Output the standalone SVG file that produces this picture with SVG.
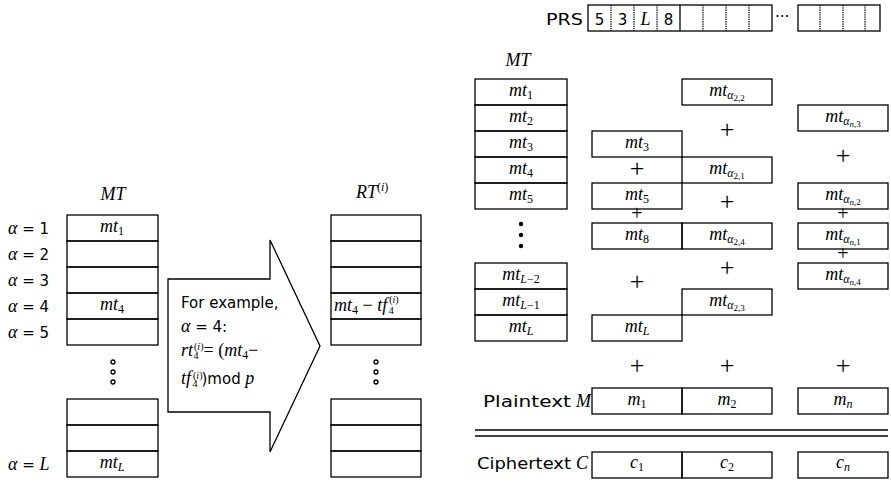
<svg xmlns="http://www.w3.org/2000/svg" width="891" height="482" viewBox="0 0 891 482">
<style>
.box{fill:none;stroke:#000;stroke-width:1.3}
.ln{stroke:#000;stroke-width:1.3;fill:none}
.dot{stroke:#000;stroke-width:1.3;stroke-dasharray:1.3 1;fill:none}
.sans{font-family:"DejaVu Sans",Verdana,sans-serif;font-size:15px;fill:#000}
.m{font-family:"Liberation Serif","Times New Roman",serif;font-style:italic;font-size:18px;fill:#000}
.s{font-size:12px;font-style:normal}
.si{font-size:12px;font-style:italic}
.t{font-size:10px;font-style:normal}
.ti{font-size:10px;font-style:italic}
.ss{font-size:9px;font-style:normal}
.ssi{font-size:9px;font-style:italic}
.plus{font-family:"Liberation Serif",serif;font-size:26px;fill:#000;text-anchor:middle}
.pt{font-size:20px}
.c{text-anchor:middle}
</style>
<rect width="891" height="482" fill="#fff"/>

<!-- LEFT: MT table -->
<g id="left-mt">
<text class="m c" x="113" y="200">MT</text>
<rect class="box" x="67" y="215" width="91" height="26"/>
<rect class="box" x="67" y="241" width="91" height="26"/>
<rect class="box" x="67" y="267" width="91" height="26"/>
<rect class="box" x="67" y="293" width="91" height="26"/>
<rect class="box" x="67" y="319" width="91" height="26"/>
<rect class="box" x="67" y="399" width="91" height="26"/>
<rect class="box" x="67" y="425" width="91" height="26"/>
<rect class="box" x="67" y="451" width="91" height="26"/>
<text class="m c" x="112" y="232">mt<tspan class="s" dy="3">1</tspan></text>
<text class="m c" x="112" y="310">mt<tspan class="s" dy="3">4</tspan></text>
<text class="m c" x="112" y="468">mt<tspan class="si" dy="3">L</tspan></text>
<circle class="ln" cx="113" cy="362" r="2"/>
<circle class="ln" cx="113" cy="372" r="2"/>
<circle class="ln" cx="113" cy="382" r="2"/>
</g>

<g id="alpha-labels">
<text class="sans" x="8" y="234"><tspan class="m">α</tspan> = 1</text>
<text class="sans" x="8" y="260"><tspan class="m">α</tspan> = 2</text>
<text class="sans" x="8" y="286"><tspan class="m">α</tspan> = 3</text>
<text class="sans" x="8" y="312"><tspan class="m">α</tspan> = 4</text>
<text class="sans" x="8" y="338"><tspan class="m">α</tspan> = 5</text>
<text class="sans" x="8" y="470"><tspan class="m">α</tspan> = <tspan class="m">L</tspan></text>
</g>

<!-- Arrow -->
<g id="arrow">
<polygon class="box" points="168,279 270,279 270,240 320,346 270,452 270,412 168,412"/>
<text class="sans" x="181" y="308" font-size="16">For example,</text>
<text class="sans" x="181" y="332" font-size="16"><tspan class="m">α</tspan> = 4:</text>
<text class="m" x="181" y="356" font-size="19">rt<tspan class="t" dx="1" dy="-6">(</tspan><tspan class="ti">i</tspan><tspan class="t">)</tspan><tspan class="t" dx="-10" dy="9">4</tspan><tspan font-style="normal" dx="5" dy="-3">= (</tspan>mt<tspan class="s" dy="3">4</tspan><tspan font-style="normal" dy="-3">−</tspan></text>
<text class="m" x="181" y="384" font-size="19">tf<tspan class="t" dx="2" dy="-5">(</tspan><tspan class="ti">i</tspan><tspan class="t">)</tspan><tspan class="t" dx="-10" dy="8">4</tspan><tspan class="sans" font-style="normal" font-size="16" dx="4" dy="-3">)mod</tspan> p</text>
</g>

<!-- RT table -->
<g id="rt-table">
<text class="m" x="356" y="198">RT<tspan class="s" dy="-7">(</tspan><tspan class="si">i</tspan><tspan class="s">)</tspan></text>
<rect class="box" x="331" y="215" width="90" height="26"/>
<rect class="box" x="331" y="241" width="90" height="26"/>
<rect class="box" x="331" y="267" width="90" height="26"/>
<rect class="box" x="331" y="293" width="90" height="26"/>
<rect class="box" x="331" y="319" width="90" height="26"/>
<rect class="box" x="331" y="399" width="90" height="26"/>
<rect class="box" x="331" y="425" width="90" height="26"/>
<rect class="box" x="331" y="451" width="90" height="26"/>
<text class="m" x="334" y="311" font-size="19">mt<tspan class="s" dy="3">4</tspan><tspan font-style="normal" dy="-3"> − </tspan>tf<tspan class="t" dx="2" dy="-8">(</tspan><tspan class="ti">i</tspan><tspan class="t">)</tspan><tspan class="t" dx="-10" dy="11">4</tspan></text>
<circle class="ln" cx="376" cy="362" r="2"/>
<circle class="ln" cx="376" cy="372" r="2"/>
<circle class="ln" cx="376" cy="382" r="2"/>
</g>

<!-- PRS -->
<g id="prs">
<text class="sans" x="546" y="25" textLength="37" lengthAdjust="spacingAndGlyphs">PRS</text>
<rect class="box" x="588" y="5" width="184" height="26"/>
<line class="dot" x1="611" y1="5" x2="611" y2="31"/>
<line class="dot" x1="634" y1="5" x2="634" y2="31"/>
<line class="dot" x1="657" y1="5" x2="657" y2="31"/>
<line class="ln" x1="680" y1="5" x2="680" y2="31"/>
<line class="dot" x1="703" y1="5" x2="703" y2="31"/>
<line class="dot" x1="726" y1="5" x2="726" y2="31"/>
<line class="dot" x1="749" y1="5" x2="749" y2="31"/>
<text class="sans c" x="599.5" y="25">5</text>
<text class="sans c" x="622.5" y="25">3</text>
<text class="m c" x="645.5" y="25">L</text>
<text class="sans c" x="668.5" y="25">8</text>
<text class="sans" x="775" y="22" font-size="13">···</text>
<rect class="box" x="798" y="5" width="82" height="26"/>
<line class="dot" x1="820" y1="5" x2="820" y2="31"/>
<line class="dot" x1="843" y1="5" x2="843" y2="31"/>
<line class="dot" x1="865" y1="5" x2="865" y2="31"/>
</g>

<!-- Right MT column -->
<g id="right-mt">
<text class="m c" x="518" y="66">MT</text>
<rect class="box" x="475" y="79" width="92" height="26"/>
<rect class="box" x="475" y="105" width="92" height="26"/>
<rect class="box" x="475" y="131" width="92" height="26"/>
<rect class="box" x="475" y="157" width="92" height="26"/>
<rect class="box" x="475" y="183" width="92" height="26"/>
<rect class="box" x="475" y="263" width="92" height="26"/>
<rect class="box" x="475" y="289" width="92" height="26"/>
<rect class="box" x="475" y="315" width="92" height="26"/>
<text class="m c" x="521" y="96">mt<tspan class="s" dy="3">1</tspan></text>
<text class="m c" x="521" y="122">mt<tspan class="s" dy="3">2</tspan></text>
<text class="m c" x="521" y="148">mt<tspan class="s" dy="3">3</tspan></text>
<text class="m c" x="521" y="174">mt<tspan class="s" dy="3">4</tspan></text>
<text class="m c" x="521" y="200">mt<tspan class="s" dy="3">5</tspan></text>
<text class="m c" x="521" y="280">mt<tspan class="si" dy="3">L</tspan><tspan class="s">−2</tspan></text>
<text class="m c" x="521" y="306">mt<tspan class="si" dy="3">L</tspan><tspan class="s">−1</tspan></text>
<text class="m c" x="521" y="332">mt<tspan class="si" dy="3">L</tspan></text>
<circle cx="521" cy="224" r="2.2" fill="#000"/>
<circle cx="521" cy="235" r="2.2" fill="#000"/>
<circle cx="521" cy="246" r="2.2" fill="#000"/>
</g>

<!-- Block 1 -->
<g id="col1">
<rect class="box" x="592" y="131" width="90" height="26"/>
<rect class="box" x="592" y="183" width="90" height="26"/>
<rect class="box" x="592" y="223" width="90" height="26"/>
<rect class="box" x="592" y="315" width="90" height="26"/>
<text class="m c" x="637" y="148">mt<tspan class="s" dy="3">3</tspan></text>
<text class="m c" x="637" y="200">mt<tspan class="s" dy="3">5</tspan></text>
<text class="m c" x="637" y="240">mt<tspan class="s" dy="3">8</tspan></text>
<text class="m c" x="637" y="332">mt<tspan class="si" dy="3">L</tspan></text>
<text class="plus" x="637" y="177">+</text>
<text class="plus pt" x="637" y="220">+</text>
<text class="plus" x="637" y="290">+</text>
</g>

<!-- Block 2 -->
<g id="col2">
<rect class="box" x="682" y="79" width="90" height="26"/>
<rect class="box" x="682" y="157" width="90" height="26"/>
<rect class="box" x="682" y="223" width="90" height="26"/>
<rect class="box" x="682" y="289" width="90" height="26"/>
<text class="m c" x="727" y="96">mt<tspan class="si" dy="3">α</tspan><tspan class="ss" dy="2">2,2</tspan></text>
<text class="m c" x="727" y="174">mt<tspan class="si" dy="3">α</tspan><tspan class="ss" dy="2">2,1</tspan></text>
<text class="m c" x="727" y="240">mt<tspan class="si" dy="3">α</tspan><tspan class="ss" dy="2">2,4</tspan></text>
<text class="m c" x="727" y="306">mt<tspan class="si" dy="3">α</tspan><tspan class="ss" dy="2">2,3</tspan></text>
<text class="plus" x="727" y="138">+</text>
<text class="plus" x="727" y="210">+</text>
<text class="plus" x="727" y="276">+</text>
</g>

<!-- Block n -->
<g id="coln">
<rect class="box" x="798" y="105" width="90" height="26"/>
<rect class="box" x="798" y="183" width="90" height="26"/>
<rect class="box" x="798" y="223" width="90" height="26"/>
<rect class="box" x="798" y="263" width="90" height="26"/>
<text class="m c" x="843" y="122">mt<tspan class="si" dy="3">α</tspan><tspan class="ssi" dy="2">n</tspan><tspan class="ss">,3</tspan></text>
<text class="m c" x="843" y="200">mt<tspan class="si" dy="3">α</tspan><tspan class="ssi" dy="2">n</tspan><tspan class="ss">,2</tspan></text>
<text class="m c" x="843" y="240">mt<tspan class="si" dy="3">α</tspan><tspan class="ssi" dy="2">n</tspan><tspan class="ss">,1</tspan></text>
<text class="m c" x="843" y="280">mt<tspan class="si" dy="3">α</tspan><tspan class="ssi" dy="2">n</tspan><tspan class="ss">,4</tspan></text>
<text class="plus" x="843" y="164">+</text>
<text class="plus pt" x="843" y="220">+</text>
<text class="plus pt" x="843" y="260">+</text>
</g>

<!-- Plaintext / Ciphertext -->
<g id="plaintext">
<text class="plus" x="637" y="374">+</text>
<text class="plus" x="727" y="374">+</text>
<text class="plus" x="843" y="374">+</text>
<text class="sans" x="483" y="407" textLength="88" lengthAdjust="spacingAndGlyphs">Plaintext</text>
<text class="m" x="576" y="407">M</text>
<rect class="box" x="592" y="388" width="90" height="26"/>
<rect class="box" x="682" y="388" width="90" height="26"/>
<rect class="box" x="798" y="388" width="90" height="26"/>
<text class="m c" x="637" y="405">m<tspan class="s" dy="3">1</tspan></text>
<text class="m c" x="727" y="405">m<tspan class="s" dy="3">2</tspan></text>
<text class="m c" x="843" y="405">m<tspan class="si" dy="3">n</tspan></text>
</g>
<g id="separator">
<line class="ln" x1="475" y1="430" x2="888" y2="430"/>
<line class="ln" x1="475" y1="436" x2="888" y2="436"/>
</g>
<g id="ciphertext">
<text class="sans" x="477" y="469" textLength="94" lengthAdjust="spacingAndGlyphs">Ciphertext</text>
<text class="m" x="576" y="469">C</text>
<rect class="box" x="592" y="452" width="90" height="26"/>
<rect class="box" x="682" y="452" width="90" height="26"/>
<rect class="box" x="798" y="452" width="90" height="26"/>
<text class="m c" x="637" y="468">c<tspan class="s" dy="3">1</tspan></text>
<text class="m c" x="727" y="468">c<tspan class="s" dy="3">2</tspan></text>
<text class="m c" x="843" y="468">c<tspan class="si" dy="3">n</tspan></text>
</g>
</svg>
